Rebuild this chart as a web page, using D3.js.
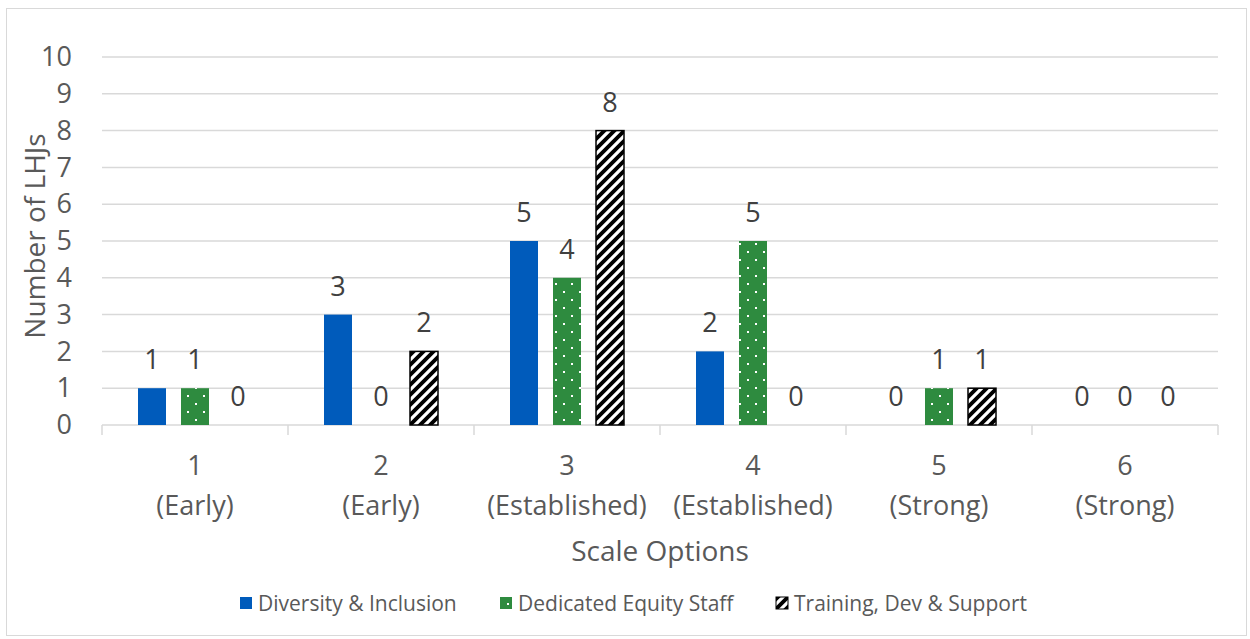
<!DOCTYPE html>
<html><head><meta charset="utf-8">
<script src="https://cdn.jsdelivr.net/npm/d3@7"></script>
<style>body{margin:0;background:#fff}svg{display:block}</style>
</head><body>
<svg id="c" width="1250" height="639"></svg>
<script>
const categories = ["1|(Early)","2|(Early)","3|(Established)","4|(Established)","5|(Strong)","6|(Strong)"];
const seriesNames = ["Diversity & Inclusion","Dedicated Equity Staff","Training, Dev & Support"];
const diversity = [1,3,5,2,0,0];
const equity = [1,0,4,5,1,0];
const training = [0,2,8,0,1,0];
const yTicks = [0,1,2,3,4,5,6,7,8,9,10];
const values = [diversity, equity, training];

const svg = d3.select("#c");
const font = "'Open Sans', sans-serif";
const defs = svg.append("defs");
const dots = defs.append("pattern").attr("id","dots").attr("patternUnits","userSpaceOnUse").attr("width",16).attr("height",16);
dots.append("rect").attr("width",16).attr("height",16).attr("fill","#2e8b3f");
dots.append("rect").attr("x",3).attr("y",3).attr("width",2).attr("height",2).attr("fill","#fff");
dots.append("rect").attr("x",11).attr("y",11).attr("width",2).attr("height",2).attr("fill","#fff");
const st = defs.append("pattern").attr("id","stripes").attr("patternUnits","userSpaceOnUse").attr("width",10).attr("height",10);
st.append("rect").attr("width",10).attr("height",10).attr("fill","#000");
st.append("path").attr("d","M-2,12 L12,-2 M-7,7 L7,-7 M3,17 L17,3").attr("stroke","#fff").attr("stroke-width",3.2);
const fills = ["#005bbb","url(#dots)","url(#stripes)"];
const strokes = ["none","none","#000"];

svg.append("rect").attr("x",6.5).attr("y",8.5).attr("width",1240).attr("height",627).attr("fill","#fff").attr("stroke","#d9d9d9");

const L=102,R=1218,T=57,B=425;
const x = d3.scaleBand().domain(categories).range([L,R]);
const y = d3.scaleLinear().domain([0,10]).range([B,T]);
const barW = 28, step = 43;
const xs = d3.scaleLinear().domain([0,2]).range([-step, step]);

svg.append("g").selectAll("line").data(yTicks.filter(d=>d>0)).join("line")
  .attr("x1",L).attr("x2",R).attr("y1",d=>y(d)).attr("y2",d=>y(d)).attr("stroke","#d9d9d9").attr("stroke-width",1.5);

const yAxis = svg.append("g").attr("transform",`translate(${L},0)`).call(d3.axisLeft(y).tickValues(yTicks).tickSize(0).tickPadding(30));
yAxis.select(".domain").remove();
yAxis.selectAll("text").attr("font-family",font).attr("font-size",27).attr("fill","#595959");

svg.append("line").attr("x1",L).attr("x2",R).attr("y1",B).attr("y2",B).attr("stroke","#d9d9d9").attr("stroke-width",1.5);
svg.append("g").selectAll("line").data(d3.range(categories.length+1)).join("line")
  .attr("x1",i=>L+i*x.bandwidth()).attr("x2",i=>L+i*x.bandwidth()).attr("y1",B).attr("y2",B+10).attr("stroke","#d9d9d9").attr("stroke-width",1.5);
const xl = svg.append("g").selectAll("text").data(categories).join("text")
  .attr("text-anchor","middle").attr("font-family",font).attr("font-size",27).attr("fill","#595959");
xl.append("tspan").attr("x",d=>x(d)+x.bandwidth()/2).attr("y",475).text(d=>d.split("|")[0]);
xl.append("tspan").attr("x",d=>x(d)+x.bandwidth()/2).attr("y",515).text(d=>d.split("|")[1]);

values.forEach((vals,s)=>{
  const data = vals.map((v,i)=>({v,c:categories[i]}));
  const cx = d=>x(d.c)+x.bandwidth()/2+xs(s);
  const g = svg.append("g");
  g.selectAll("rect").data(data).join("rect")
    .attr("x",d=>cx(d)-barW/2).attr("width",barW)
    .attr("y",d=>y(d.v)).attr("height",d=>B-y(d.v))
    .attr("fill",fills[s]).attr("stroke",d=>d.v>0?strokes[s]:"none").attr("stroke-width",1.5);
  g.selectAll("text").data(data).join("text")
    .attr("x",cx).attr("y",d=>y(d.v)-19)
    .attr("text-anchor","middle").attr("font-family",font).attr("font-size",27).attr("fill","#404040").text(d=>d.v);
});

svg.append("text").attr("transform","translate(45,236) rotate(-90)").attr("text-anchor","middle")
  .attr("font-family",font).attr("font-size",28).attr("fill","#595959").text("Number of LHJs");
svg.append("text").attr("x",660).attr("y",561).attr("text-anchor","middle")
  .attr("font-family",font).attr("font-size",28).attr("fill","#595959").text("Scale Options");

const legX = [240,500,776];
seriesNames.forEach((n,s)=>{
  svg.append("rect").attr("x",legX[s]).attr("y",597).attr("width",12).attr("height",12).attr("fill",fills[s]).attr("stroke",strokes[s]);
  svg.append("text").attr("x",legX[s]+18).attr("y",611).attr("font-family",font).attr("font-size",21).attr("fill","#595959").text(n);
});
</script>
</body></html>
